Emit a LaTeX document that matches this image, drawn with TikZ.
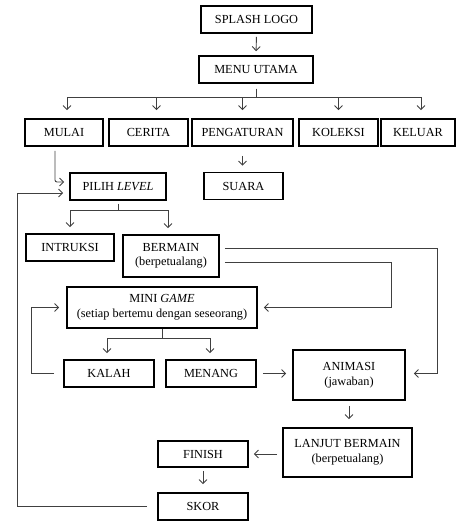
\documentclass[tikz,border=0pt]{standalone}
\usepackage{fontspec}
\setmainfont{Liberation Serif}
\usetikzlibrary{arrows.meta}
\begin{document}
\begin{tikzpicture}[x=1pt,y=-1pt,
  box/.style={draw=black, line width=1.6pt, align=center, inner sep=0pt,
    font=\fontsize{12.3}{14.5}\selectfont},
  wh/.style 2 args={minimum width=#1pt, minimum height=#2pt},
  conn/.style={draw=black!75, line width=0.9pt, -{Straight Barb[length=4pt,width=8pt]}},
  plain/.style={draw=black!75, line width=0.9pt}]
\useasboundingbox (0,0) rectangle (456,521);

% nodes
\node[box, wh={111}{27}] (splash) at (256.5,19.5) {SPLASH LOGO};
\node[box, wh={114}{27}] (menu) at (256,69.5) {MENU UTAMA};
\node[box, wh={78}{27}] (mulai) at (64,132.5) {MULAI};
\node[box, wh={79}{27}] (cerita) at (148.5,132.5) {CERITA};
\node[box, wh={101}{27}] (peng) at (242.5,132.5) {PENGATURAN};
\node[box, wh={79}{27}] (koleksi) at (338.5,132.5) {KOLEKSI};
\node[box, wh={74}{27}] (keluar) at (418,132.5) {KELUAR};
\node[box, wh={79}{27}] (suara) at (243.5,186) {SUARA};
\node[box, wh={96}{27}] (pilih) at (118,186.5) {PILIH \textit{LEVEL}};
\node[box, wh={88}{27}] (intruksi) at (70,247.5) {INTRUKSI};
\node[box, wh={96}{42}] (bermain) at (171,256) {BERMAIN\\(berpetualang)};
\node[box, wh={190}{41}] (mini) at (162,307.5) {MINI \textit{GAME}\\(setiap bertemu dengan seseorang)};
\node[box, wh={90}{27}] (kalah) at (109,373.5) {KALAH};
\node[box, wh={90}{27}] (menang) at (211,373.5) {MENANG};
\node[box, wh={112}{50}] (animasi) at (349,375) {ANIMASI\\(jawaban)};
\node[box, wh={129}{49}] (lanjut) at (347.5,452.5) {LANJUT BERMAIN\\(berpetualang)};
\node[box, wh={90}{26}] (finish) at (203,454) {FINISH};
\node[box, wh={90}{27}] (skor) at (203,506.5) {SKOR};

% helper coordinates
\coordinate (fbx) at (17,0);
\coordinate (kx) at (31,0);
\coordinate (rx1) at (437,0);
\coordinate (rx2) at (391,0);
\coordinate (pin1) at ([yshift=4.5pt]pilih.west);
\coordinate (pin2) at ([yshift=-6.5pt]pilih.west);
\coordinate (bo1) at ([yshift=8pt]bermain.east);
\coordinate (bo2) at ([yshift=-6pt]bermain.east);
\coordinate (mstart) at ([xshift=-9pt]mulai.south);

% connectors
\draw[conn, shorten <=3pt, shorten >=4pt] (splash.south) -- (menu.north);
\draw[conn, shorten <=5pt, shorten >=8pt] (menu.south) -- ++(0,14) -| ([xshift=3pt]mulai.north);
\draw[conn, shorten <=5pt, shorten >=8pt] (menu.south) -- ++(0,14) -| ([xshift=8pt]cerita.north);
\draw[conn, shorten <=5pt, shorten >=8pt] (menu.south) -- ++(0,14) -| (peng.north);
\draw[conn, shorten <=5pt, shorten >=8pt] (menu.south) -- ++(0,14) -| (koleksi.north);
\draw[conn, shorten <=5pt, shorten >=8pt] (menu.south) -- ++(0,14) -| ([xshift=3pt]keluar.north);
\draw[conn, shorten <=9pt, shorten >=6pt] (peng.south) -- (peng.south |- suara.north);
\draw[conn, shorten <=4pt, shorten >=5pt, rounded corners=2pt] (mstart) |- (pin1);
\draw[conn, shorten <=10pt, shorten >=6pt] (skor.west) -| (fbx |- pin2) -- (pin2);
\draw[conn, shorten <=3pt, shorten >=6pt] (pilih.south) -- ++(0,10) -| (intruksi.north);
\draw[conn, shorten <=3pt, shorten >=6pt] (pilih.south) -- ++(0,10) -| ([xshift=-3pt]bermain.north);
\draw[conn, shorten <=5pt, shorten >=8pt] (bo1) -- (rx1 |- bo1) |- ([yshift=1.5pt]animasi.east);
\draw[conn, shorten <=5pt, shorten >=6pt] (bo2) -- (rx2 |- bo2) |- (mini.east);
\draw[conn, shorten <=0pt, shorten >=6pt] (mini.south) -- ++(0,10) -| ([xshift=-2pt]kalah.north);
\draw[conn, shorten <=0pt, shorten >=6pt] (mini.south) -- ++(0,10) -| ([xshift=-1pt]menang.north);
\draw[conn, shorten <=9pt, shorten >=7pt] (kalah.west) -| (kx |- mini.west) -- (mini.west);
\draw[conn, shorten <=6pt, shorten >=6pt] (menang.east) -- (menang.east -| animasi.west);
\draw[conn, shorten <=5pt, shorten >=8pt] (animasi.south) -- (animasi.south |- lanjut.north);
\draw[conn, shorten <=5pt, shorten >=5pt] (lanjut.west |- finish.east) -- (finish.east);
\draw[conn, shorten <=3pt, shorten >=8pt] (finish.south) -- (skor.north);
\end{tikzpicture}
\end{document}
